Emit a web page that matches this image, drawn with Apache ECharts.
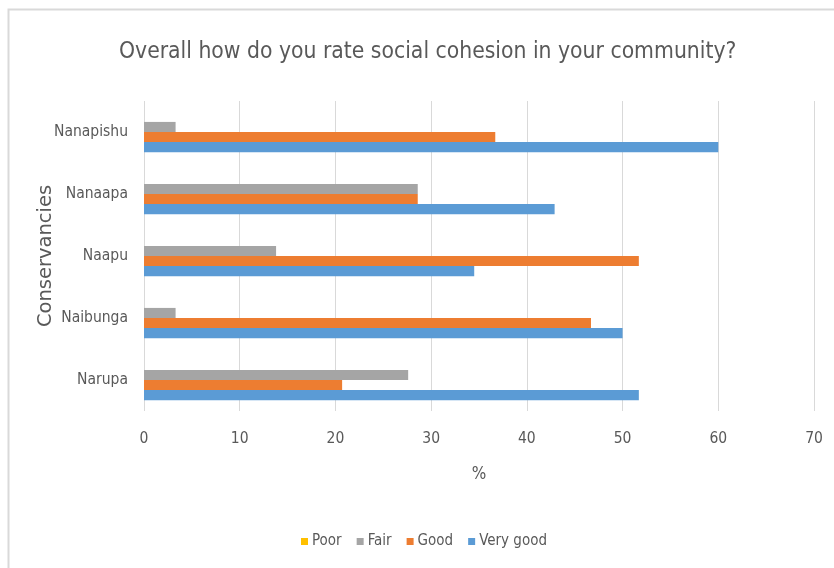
<!DOCTYPE html>
<html>
<head>
<meta charset="utf-8">
<style>
  html, body { margin: 0; padding: 0; background: #fff; }
  #chart { width: 834px; height: 568px; }
</style>
<script src="https://cdn.jsdelivr.net/npm/echarts@6/dist/echarts.min.js"></script>
</head>
<body>
<div id="chart"></div>
<script>
// Conservancies, listed bottom to top on the category axis
const conservancies = ['Narupa', 'Naibunga', 'Naapu', 'Nanaapa', 'Nanapishu'];

// Share of respondents (%) per rating
const poor     = [0, 0, 0, 0, 0];
const fair     = [27.6, 3.3, 13.8, 28.6, 3.3];
const good     = [20.7, 46.7, 51.7, 28.6, 36.7];
const veryGood = [51.7, 50.0, 34.5, 42.9, 60.0];

const ratingNames = ['Poor', 'Fair', 'Good', 'Very good'];
const ratingColors = ['#FFC000', '#A5A5A5', '#ED7D31', '#5B9BD5'];
const xTicks = { min: 0, max: 70, interval: 10 };

const font = '"DejaVu Sans Condensed", "Liberation Sans Narrow", sans-serif';
const wideFont = '"DejaVu Sans", "Open Sans", sans-serif';
const textGray = '#595959';

const seriesData = [poor, fair, good, veryGood];

const chart = echarts.init(document.getElementById('chart'), null, { renderer: 'canvas' });

chart.setOption({
  animation: false,
  backgroundColor: '#ffffff',
  graphic: [{
    type: 'polyline',
    shape: { points: [[8.5, 568], [8.5, 9.5], [834, 9.5]] },
    style: { stroke: '#d9d9d9', lineWidth: 2, fill: null },
    silent: true
  }],
  title: {
    text: 'Overall how do you rate social cohesion in your community?',
    left: 114,
    top: 36,
    textStyle: { fontFamily: font, fontSize: 22.7, fontWeight: 'normal', color: textGray }
  },
  legend: {
    data: ratingNames,
    bottom: 14,
    left: 296,
    itemWidth: 7,
    itemHeight: 7,
    itemGap: 15,
    icon: 'rect',
    textStyle: { fontFamily: font, fontSize: 15, color: textGray, padding: [0, 0, 0, -1] }
  },
  grid: { left: 144, right: 20, top: 101, bottom: 157, containLabel: false },
  xAxis: {
    type: 'value',
    min: xTicks.min,
    max: xTicks.max,
    interval: xTicks.interval,
    name: '%',
    nameLocation: 'middle',
    nameGap: 55,
    nameTextStyle: { fontFamily: font, fontSize: 17, color: textGray },
    axisLine: { show: false },
    axisTick: { show: false },
    splitLine: { show: true, lineStyle: { color: '#d9d9d9', width: 1 } },
    axisLabel: { fontFamily: font, fontSize: 15.5, color: textGray, margin: 20 }
  },
  yAxis: {
    type: 'category',
    data: conservancies,
    name: 'Conservancies',
    nameLocation: 'middle',
    nameGap: 88,
    nameMoveOverlap: false,
    nameRotate: 90,
    nameTextStyle: { fontFamily: wideFont, fontSize: 19.5, color: textGray },
    axisLine: { show: false },
    axisTick: { show: false },
    axisLabel: { fontFamily: font, fontSize: 15.5, color: textGray, margin: 16 }
  },
  series: ratingNames.map((name, i) => ({
    name: name,
    type: 'bar',
    data: seriesData[i],
    itemStyle: { color: ratingColors[i] },
    barGap: '0%',
    barCategoryGap: '35%'
  }))
});
</script>
</body>
</html>
